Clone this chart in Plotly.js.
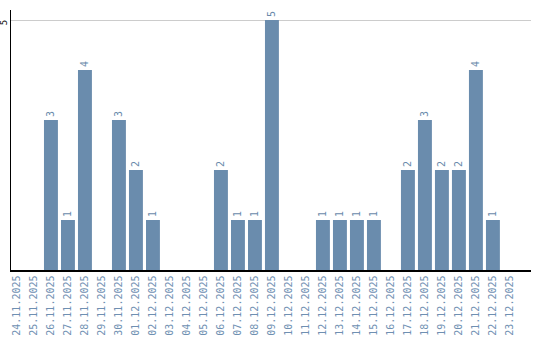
<!DOCTYPE html>
<html><head><meta charset="utf-8">
<script src="https://cdn.plot.ly/plotly-3.0.1.min.js"></script>
<style>html,body{margin:0;padding:0;background:#fff}</style>
</head><body>
<div id="chart" style="width:540px;height:340px"></div>
<script>
const dates = ["24.11.2025","25.11.2025","26.11.2025","27.11.2025","28.11.2025","29.11.2025","30.11.2025","01.12.2025","02.12.2025","03.12.2025","04.12.2025","05.12.2025","06.12.2025","07.12.2025","08.12.2025","09.12.2025","10.12.2025","11.12.2025","12.12.2025","13.12.2025","14.12.2025","15.12.2025","16.12.2025","17.12.2025","18.12.2025","19.12.2025","20.12.2025","21.12.2025","22.12.2025","23.12.2025"];
const counts = [0,0,3,1,4,0,3,2,1,0,0,0,2,1,1,5,0,0,1,1,1,1,0,2,3,2,2,4,1,0];
const labels = counts.map(v => v > 0 ? String(v) : "");

Plotly.newPlot("chart", [{
  type: "bar",
  x: dates,
  y: counts,
  text: labels,
  textposition: "outside",
  textangle: -90,
  cliponaxis: false,
  textfont: {family: "DejaVu Sans Mono", size: 10, color: "#6a8aab"},
  marker: {color: "#6a8cad"},
  hoverinfo: "none"
}], {
  width: 540, height: 340,
  margin: {l: 11, r: 9, t: 10, b: 70},
  paper_bgcolor: "#fff", plot_bgcolor: "#fff",
  bargap: 0.18,
  showlegend: false,
  xaxis: {
    type: "category",
    range: [-0.35, 30.24],
    tickangle: -90,
    tickfont: {family: "DejaVu Sans Mono", size: 10, color: "#6f90b2"},
    showline: true, linecolor: "#000", linewidth: 1.5,
    showgrid: false, ticks: "", zeroline: false
  },
  yaxis: {
    range: [0, 5.2],
    tickvals: [5],
    ticktext: ["5"],
    tickangle: -90,
    ticklabelshift: 4,
    ticklabelstandoff: -1,
    automargin: false,
    tickfont: {family: "DejaVu Sans Mono", size: 9, color: "#000"},
    showline: true, linecolor: "#000", linewidth: 1.5,
    showgrid: true, gridcolor: "#cccccc", gridwidth: 1,
    zeroline: false, ticks: ""
  }
}, {staticPlot: true});
</script>
</body></html>
